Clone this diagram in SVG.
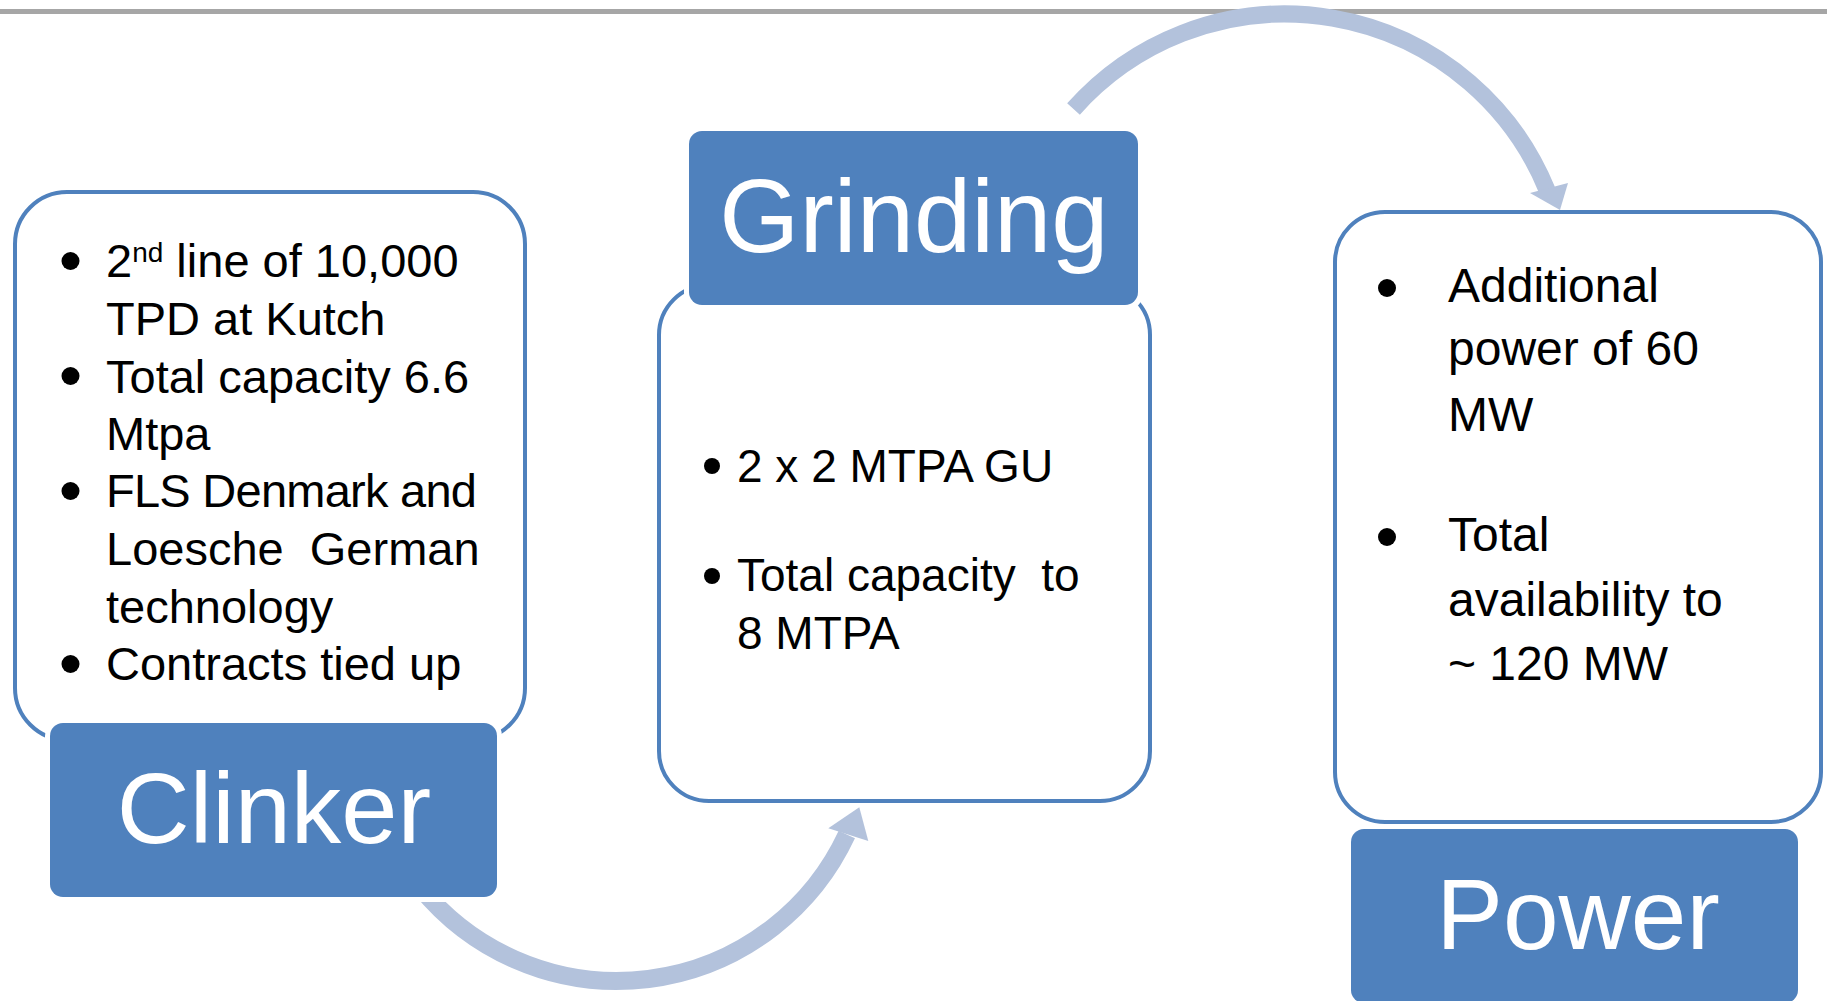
<svg xmlns="http://www.w3.org/2000/svg" width="1827" height="1001" viewBox="0 0 1827 1001">
<style>
.box{fill:#ffffff;stroke:#4f81bd;stroke-width:4}
.halo{fill:#ffffff}
.lab{fill:#4f81bd}
.labt{font-family:"Liberation Sans",Arial,sans-serif;fill:#ffffff;text-anchor:middle}
.t{font-family:"Liberation Sans",Arial,sans-serif;fill:#000000;white-space:pre}
.arc{fill:none;stroke:#b3c2dc;stroke-linecap:butt}
.head{fill:#b3c2dc}
</style>
<rect x="0" y="9" width="1827" height="5" fill="#a6a6a6"/>
<g id="connectors">
  <path class="arc" stroke-width="17" d="M 1073.5 109 A 283 283 0 0 1 1547 190"/>
  <polygon class="head" points="1530,193 1568,183 1560,210"/>
  <path class="arc" stroke-width="18" d="M 420.8 888 A 253.5 253.5 0 0 0 846.8 834.5"/>
  <polygon class="head" points="828.3,828.3 859.3,807.3 868.3,841"/>
</g>
<g id="clinker">
  <rect class="box" x="15" y="192" width="510" height="548" rx="52"/>
  <g class="t" font-size="47">
    <circle cx="70.5" cy="261" r="9" fill="#000"/>
    <text x="106" y="277">2<tspan font-size="28" dy="-15">nd</tspan><tspan dy="15"> line of 10,000</tspan></text>
    <text x="106" y="335">TPD at Kutch</text>
    <circle cx="70.5" cy="376" r="9" fill="#000"/>
    <text x="106" y="392.5">Total capacity 6.6</text>
    <text x="106" y="450">Mtpa</text>
    <circle cx="70.5" cy="491" r="9" fill="#000"/>
    <text x="106" y="507" textLength="371">FLS Denmark and</text>
    <text x="106" y="565" xml:space="preserve">Loesche  German</text>
    <text x="106" y="623">technology</text>
    <circle cx="70.5" cy="664" r="9" fill="#000"/>
    <text x="106" y="680">Contracts tied up</text>
  </g>
  <rect class="halo" x="45" y="718" width="457" height="184" rx="18"/>
  <rect class="lab" x="50" y="723" width="447" height="174" rx="13"/>
  <text class="labt" x="274" y="843" font-size="101">Clinker</text>
</g>
<g id="grinding">
  <rect class="box" x="659" y="285" width="491" height="516" rx="50"/>
  <rect class="halo" x="684" y="126" width="459" height="185" rx="18"/>
  <rect class="lab" x="689" y="131" width="449" height="174" rx="13"/>
  <text class="labt" x="914" y="252" font-size="103">Grinding</text>
  <g class="t" font-size="46">
    <circle cx="712" cy="466" r="8" fill="#000"/>
    <text x="737" y="481.5">2 x 2 MTPA GU</text>
    <circle cx="712" cy="576" r="8" fill="#000"/>
    <text x="737" y="591" xml:space="preserve">Total capacity  to</text>
    <text x="737" y="649">8 MTPA</text>
  </g>
</g>
<g id="power">
  <rect class="box" x="1335" y="212" width="486" height="610" rx="50"/>
  <g class="t" font-size="48">
    <circle cx="1387" cy="288" r="9" fill="#000"/>
    <text x="1448" y="302">Additional</text>
    <text x="1448" y="365">power of 60</text>
    <text x="1448" y="431">MW</text>
    <circle cx="1387" cy="537" r="9" fill="#000"/>
    <text x="1448" y="551">Total</text>
    <text x="1448" y="616">availability to</text>
    <text x="1448" y="680">~ 120 MW</text>
  </g>
  <rect class="halo" x="1347" y="825" width="455" height="182" rx="17"/>
  <rect class="lab" x="1351" y="829" width="447" height="174" rx="13"/>
  <text class="labt" x="1578" y="949" font-size="100">Power</text>
</g>
</svg>
